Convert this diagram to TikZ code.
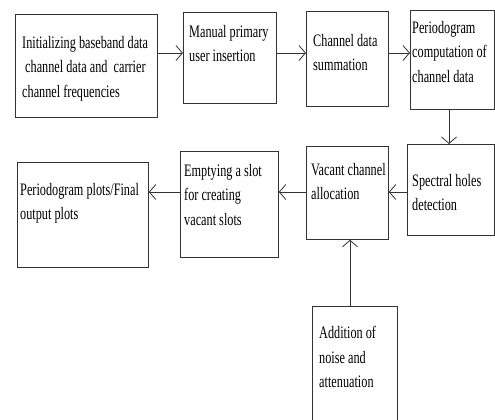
\documentclass[tikz,border=0pt]{standalone}
\usepackage{fontspec}
\setmainfont[FakeStretch=0.7]{Liberation Serif}
\usetikzlibrary{arrows.meta}

\tikzset{
  blk/.style={draw=black!80, line width=0.8pt, inner sep=0pt, anchor=north west},
  txt/.style={anchor=north west, align=left, inner sep=0pt,
    font=\fontsize{17.5}{24.5}\selectfont},
  arr/.style={draw=black!80, line width=0.8pt, -{Straight Barb[length=6.5pt,width=15pt]}}
}

\begin{document}
\begin{tikzpicture}[x=1pt,y=-1pt]
\useasboundingbox (0,0) rectangle (495,420);
\clip (0,0) rectangle (495,420);

% blocks
\node[blk, minimum width=142pt, minimum height=103pt] (b1) at (15,14) {};
\node[blk, minimum width=93pt, minimum height=91pt] (b2) at (183,12) {};
\node[blk, minimum width=82pt, minimum height=95pt] (b3) at (306,11) {};
\node[blk, minimum width=84pt, minimum height=99pt] (b4) at (410,10) {};
\node[blk, minimum width=87pt, minimum height=91pt] (b5) at (407,144) {};
\node[blk, minimum width=82pt, minimum height=93pt] (b6) at (306,146) {};
\node[blk, minimum width=98pt, minimum height=106pt] (b7) at (180,151) {};
\node[blk, minimum width=131pt, minimum height=105pt] (b8) at (17,162) {};
\node[blk, minimum width=85pt, minimum height=130pt] (b9) at (312,306) {};

% texts
\node[txt] (t1) at (22,36) {Initializing baseband data\\
  \hspace*{3pt}channel data and\ \ carrier\\ channel frequencies};
\node[txt] (t2) at (189,25) {Manual primary\\ user insertion};
\node[txt] (t3) at (313,34) {Channel data\\ summation};
\node[txt] (t4) at (412,21) {Periodogram\\ computation of\\ channel data};
\node[txt] (t5) at (412,174) {Spectral holes\\ detection};
\node[txt] (t6) at (311,163) {Vacant channel\\ allocation};
\node[txt] (t7) at (184,164) {Emptying a slot\\ for creating\\ vacant slots};
\node[txt] (t8) at (20,183) {Periodogram plots/Final\\ output plots};
\node[txt] (t9) at (319,326) {Addition of\\ noise and\\ attenuation};

% arrows
\coordinate (r1) at (0,53);
\coordinate (r2) at (0,192);
\coordinate (c1) at (449,0);
\coordinate (c2) at (350,0);
\draw[arr] (b1.east |- r1) -- (b2.west |- r1);
\draw[arr] (b2.east |- r1) -- (b3.west |- r1);
\draw[arr] (b3.east |- r1) -- (b4.west |- r1);
\draw[arr] (b4.south -| c1) -- (b5.north -| c1);
\draw[arr] (b5.west |- r2) -- (b6.east |- r2);
\draw[arr] (b6.west |- r2) -- (b7.east |- r2);
\draw[arr] (b7.west |- r2) -- (b8.east |- r2);
\draw[arr] (b9.north -| c2) -- (b6.south -| c2);

\end{tikzpicture}
\end{document}
